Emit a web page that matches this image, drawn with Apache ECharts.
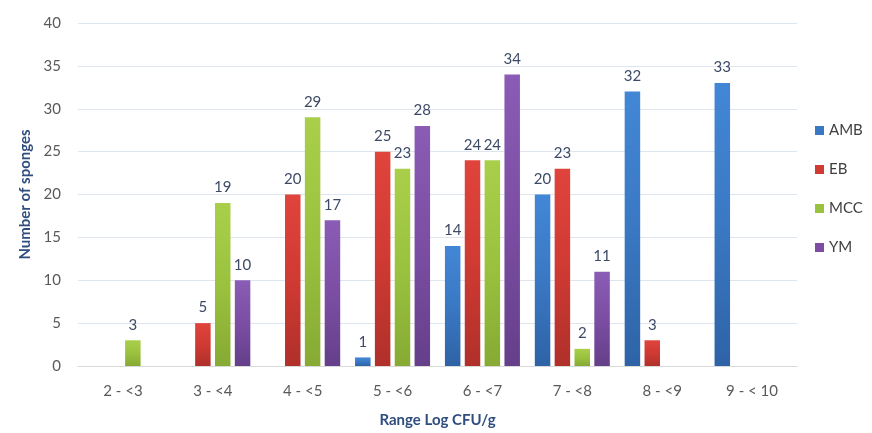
<!DOCTYPE html>
<html><head><meta charset="utf-8">
<script src="https://cdn.jsdelivr.net/npm/echarts@6/dist/echarts.min.js"></script>
<style>html,body{margin:0;padding:0;background:#fff}#c{width:872px;height:433px}</style>
</head><body><div id="c"></div>
<script>
const categories = ["2 - <3", "3 - <4", "4 - <5", "5 - <6", "6 - <7", "7 - <8", "8 - <9", "9 - < 10"];
const seriesNames = ["AMB", "EB", "MCC", "YM"];
const AMB = [0, 0, 0, 1, 14, 20, 32, 33];
const EB  = [0, 5, 20, 25, 24, 23, 3, 0];
const MCC = [3, 19, 29, 23, 24, 2, 0, 0];
const YM  = [0, 10, 17, 28, 34, 11, 0, 0];
const yTicks = { min: 0, max: 40, interval: 5 };

const colors = [
  ['#4287d6', '#3a78c3', '#2e63a6'],
  ['#e0443c', '#cf3a33', '#b0302a'],
  ['#a9cf4a', '#9bc23f', '#86aa33'],
  ['#8a5cb5', '#7b4ea3', '#653f8a']
];
const font = 'Lato, "Open Sans", sans-serif';
function grad(c) {
  return new echarts.graphic.LinearGradient(0, 0, 0, 1, [
    { offset: 0, color: c[0] }, { offset: 0.5, color: c[1] }, { offset: 1, color: c[2] }
  ]);
}
const dataSets = [AMB, EB, MCC, YM];
const chart = echarts.init(document.getElementById('c'));
chart.setOption({
  animation: false,
  textStyle: { fontFamily: font },
  grid: { left: 78, right: 75, top: 23, bottom: 65 },
  legend: {
    orient: 'vertical', left: 810, top: 118, itemGap: 24,
    itemWidth: 9, itemHeight: 9, icon: 'rect',
    textStyle: { fontFamily: font, fontSize: 15, color: '#404040' },
    data: seriesNames.map((n, i) => ({ name: n, itemStyle: { color: colors[i][1] } }))
  },
  xAxis: {
    type: 'category', data: categories,
    name: 'Range Log CFU/g', nameLocation: 'middle', nameGap: 47,
    nameTextStyle: { fontFamily: font, fontSize: 15, fontWeight: 'bold', color: '#2f4e7f' },
    axisLine: { lineStyle: { color: '#d9d9d9' } },
    axisTick: { show: false },
    axisLabel: { fontFamily: font, fontSize: 15, color: '#595959', margin: 18 }
  },
  yAxis: {
    type: 'value', min: yTicks.min, max: yTicks.max, interval: yTicks.interval,
    name: 'Number of sponges', nameLocation: 'middle', nameGap: 45,
    nameTextStyle: { fontFamily: font, fontSize: 15, fontWeight: 'bold', color: '#2f4e7f' },
    axisLine: { show: false }, axisTick: { show: false },
    axisLabel: { fontFamily: font, fontSize: 15, color: '#595959', margin: 17 },
    splitLine: { lineStyle: { color: '#dde5ee' } }
  },
  series: seriesNames.map((n, i) => ({
    name: n, type: 'bar', data: dataSets[i],
    barWidth: 15.5, barGap: '28%',
    itemStyle: { color: grad(colors[i]) },
    label: {
      show: true, position: 'top', distance: 8,
      fontFamily: font, fontSize: 15, color: '#3d4a66',
      formatter: p => (p.value === 0 ? '' : String(p.value))
    }
  }))
});
</script></body></html>
